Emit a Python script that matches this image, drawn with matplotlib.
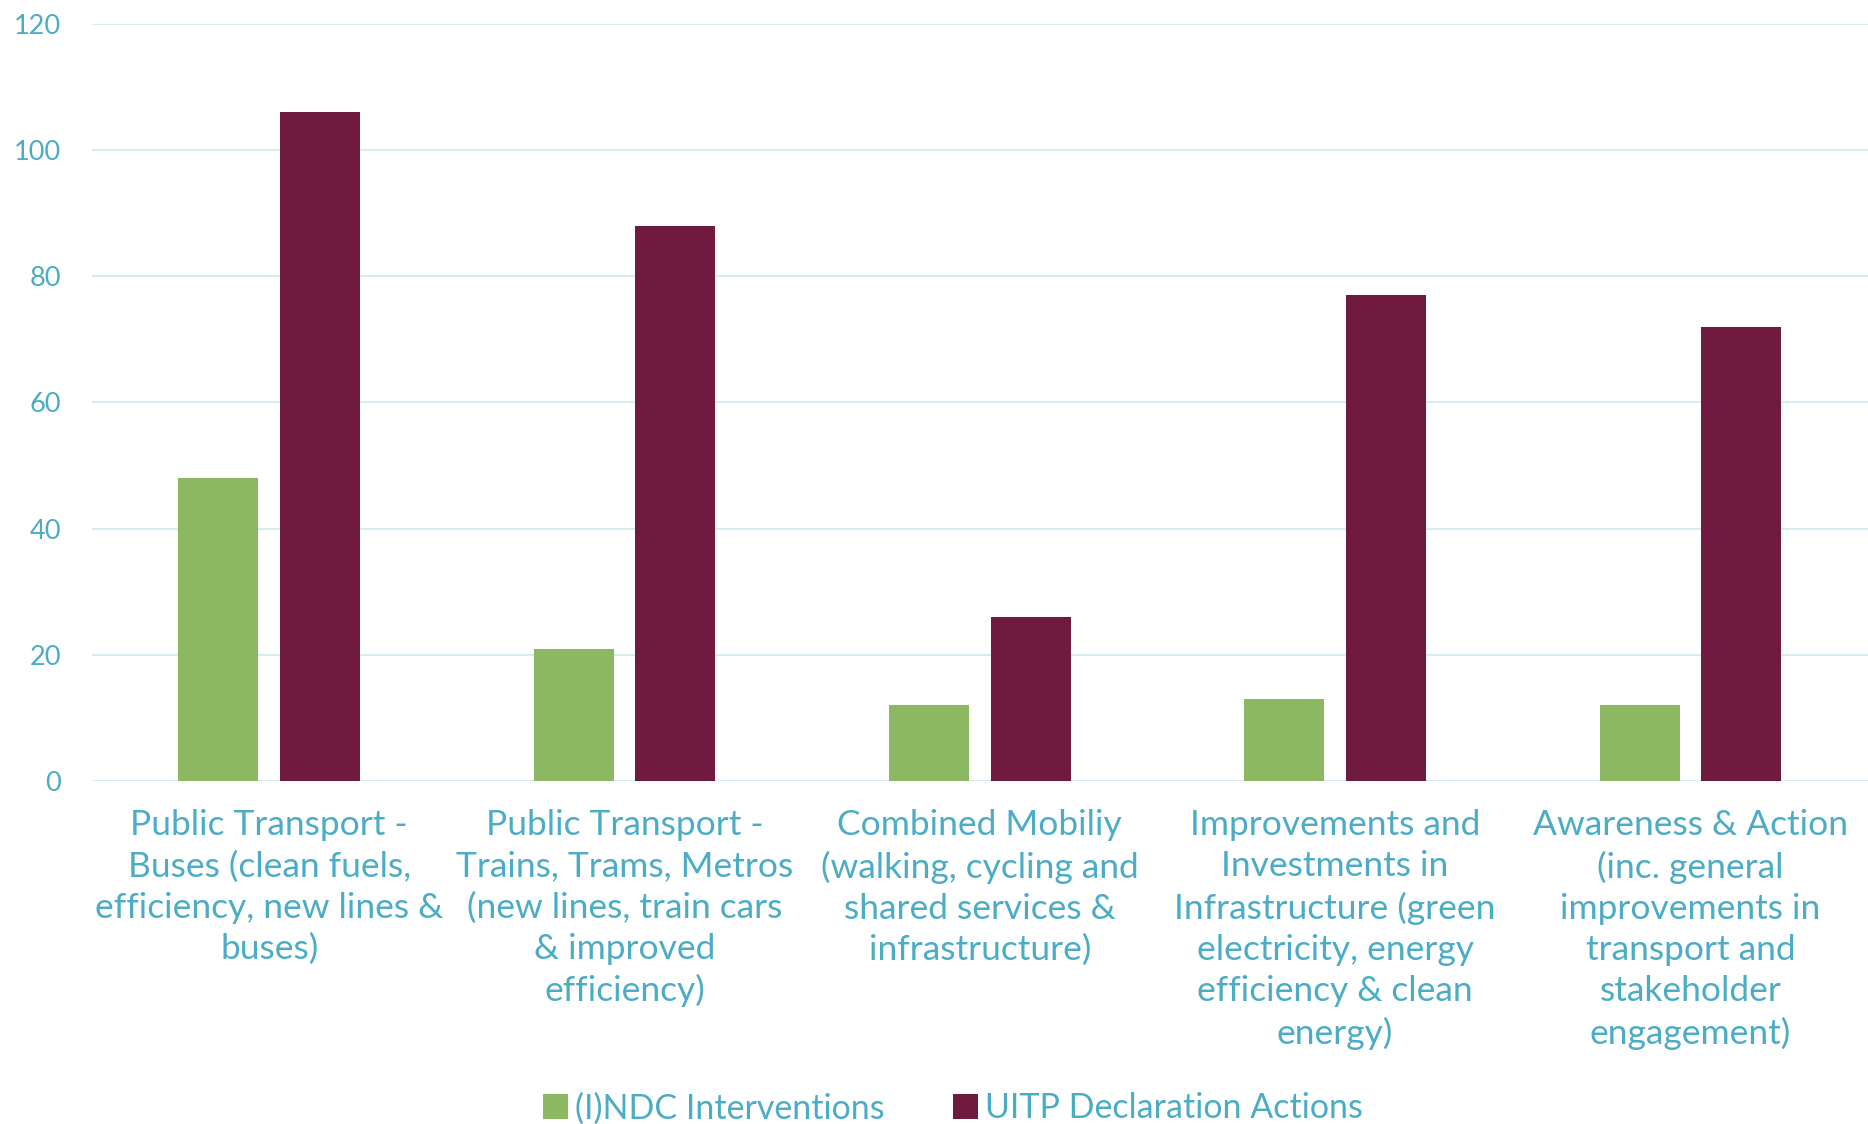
import matplotlib.pyplot as plt
import numpy as np

plt.rcParams['font.family'] = ['Lato', 'DejaVu Sans']

categories = [
    "Public Transport -\nBuses (clean fuels,\nefficiency, new lines &\nbuses)",
    "Public Transport -\nTrains, Trams, Metros\n(new lines, train cars\n& improved\nefficiency)",
    "Combined Mobiliy\n(walking, cycling and\nshared services &\ninfrastructure)",
    "Improvements and\nInvestments in\nInfrastructure (green\nelectricity, energy\nefficiency & clean\nenergy)",
    "Awareness & Action\n(inc. general\nimprovements in\ntransport and\nstakeholder\nengagement)",
]
ndc = [48, 21, 12, 13, 12]
uitp = [106, 88, 26, 77, 72]
series_names = ["(I)NDC Interventions", "UITP Declaration Actions"]

text_col = '#4BACC6'
green = '#8DB862'
maroon = '#701A40'

fig = plt.figure(figsize=(18.68, 11.24), dpi=100)
ax = fig.add_axes([0.049, 0.305, 0.951, 0.674])

x = np.arange(len(categories))
w = 0.225
ax.bar(x - 0.143, ndc, w, color=green, label=series_names[0], zorder=3)
ax.bar(x + 0.143, uitp, w, color=maroon, label=series_names[1], zorder=3)

ax.set_xlim(-0.5, len(categories) - 0.5)
ax.set_ylim(0, 120)
ax.set_yticks(range(0, 121, 20))
ax.grid(axis='y', color='#D5ECF2', linewidth=1.5, zorder=0)
for s in ax.spines.values():
    s.set_visible(False)
ax.tick_params(axis='both', length=0, colors=text_col)
ax.tick_params(axis='y', labelsize=19.5, pad=22)
ax.set_xticks(x)
ax.set_xticklabels(categories, fontsize=25.5, color=text_col, linespacing=1.35)
ax.tick_params(axis='x', pad=20)

leg = fig.legend(loc='center', bbox_to_anchor=(0.51, 0.014), ncol=2, frameon=False,
                 fontsize=24.5, handlelength=0.75, handleheight=0.75, handletextpad=0.2,
                 columnspacing=2.0)
for t in leg.get_texts():
    t.set_color(text_col)

fig.savefig('out.png', dpi=100)
